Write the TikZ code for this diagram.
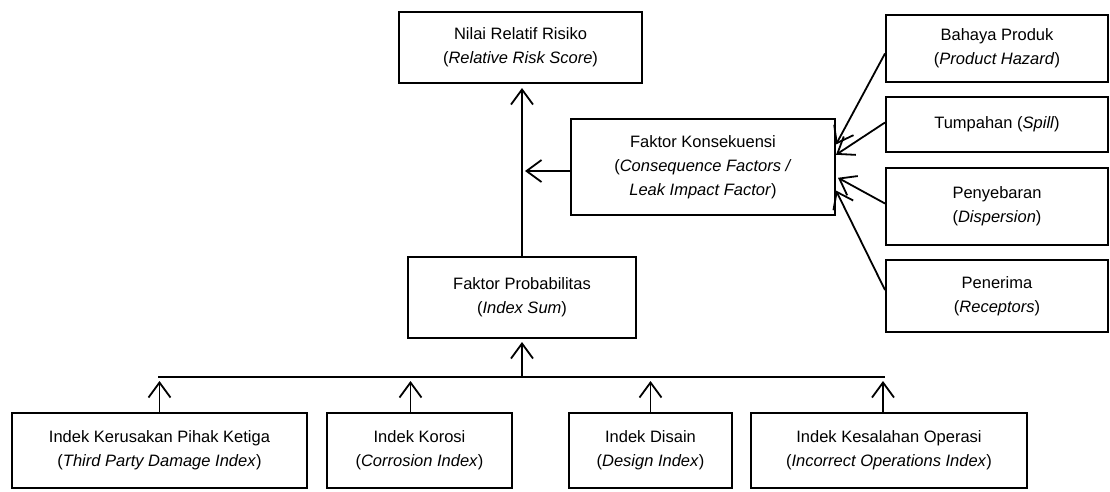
\documentclass[tikz,border=0pt]{standalone}
\usepackage{fontspec}
\setmainfont{Liberation Sans}
\usetikzlibrary{arrows.meta,calc}
\tikzset{
  box/.style={draw=black, line width=2pt, inner sep=0pt, align=center,
    font=\fontsize{16.5}{24}\selectfont},
  conn/.style={line width=1.8pt, -{Straight Barb[length=15pt,width=22pt,line width=1.8pt]}},
  plain/.style={line width=1.8pt}
}
\begin{document}
\begin{tikzpicture}[x=1pt,y=-1pt]
\useasboundingbox[fill=white] (0,0) rectangle (1110,491);
% top
\node[box, minimum width=243pt, minimum height=71pt] (nilai) at (520.5,47.5)
  {Nilai Relatif Risiko\\(\textit{Relative Risk Score})};
\node[box, minimum width=264pt, minimum height=96pt] (kons) at (703,167)
  {Faktor Konsekuensi\\(\textit{Consequence Factors /}\\\textit{Leak Impact Factor})};
\node[box, minimum width=228pt, minimum height=81pt] (prob) at (522,297.5)
  {Faktor Probabilitas\\(\textit{Index Sum})};
% right column
\node[box, minimum width=222pt, minimum height=67pt] (bahaya) at (997,48.5)
  {Bahaya Produk\\(\textit{Product Hazard})};
\node[box, minimum width=222pt, minimum height=55pt] (tump) at (997,124.5)
  {Tumpahan (\textit{Spill})};
\node[box, minimum width=222pt, minimum height=77pt] (peny) at (997,206.5)
  {Penyebaran\\(\textit{Dispersion})};
\node[box, minimum width=222pt, minimum height=72pt] (pener) at (997,296)
  {Penerima\\(\textit{Receptors})};
% bottom row
\node[box, minimum width=295pt, minimum height=75pt] (b1) at (159.5,450.5)
  {Indek Kerusakan Pihak Ketiga\\(\textit{Third Party Damage Index})};
\node[box, minimum width=185pt, minimum height=75pt] (b2) at (419.5,450.5)
  {Indek Korosi\\(\textit{Corrosion Index})};
\node[box, minimum width=163pt, minimum height=75pt] (b3) at (650.5,450.5)
  {Indek Disain\\(\textit{Design Index})};
\node[box, minimum width=276pt, minimum height=75pt] (b4) at (889,450.5)
  {Indek Kesalahan Operasi\\(\textit{Incorrect Operations Index})};
% bus
\coordinate (busL) at (158,377);
\coordinate (busR) at (885,377);
\draw[plain] (busL) -- (busR);
\draw[conn] (b1.north) -- ($(b1.north |- busL)+(0,4)$);
\draw[conn] ($(b2.north)+(-9,0)$) -- ($(b2.north |- busL)+(-9,4)$);
\draw[conn] (b3.north) -- ($(b3.north |- busL)+(0,4)$);
\draw[conn] ($(b4.north)+(-6,0)$) -- ($(b4.north |- busL)+(-6,4)$);
\draw[conn] (prob.south |- busL) -- ($(prob.south)+(0,3)$);
% main vertical
\draw[conn] (prob.north) -- ($(nilai.south -| prob.north)+(0,4)$);
\draw[conn] ($(kons.west)+(0,4)$) -- ($(kons.west -| prob.north)+(3,4)$);
% right connectors
\draw[conn] ($(bahaya.west)+(0,5)$) -- ($(kons.north east)!0.27!(kons.south east)$);
\draw[conn] ($(tump.west)+(0,-2)$) -- ($(kons.north east)!0.375!(kons.south east)$);
\draw[conn] ($(peny.west)+(0,-3)$) -- ($(kons.north east)!0.61!(kons.south east)+(2,0)$);
\draw[conn] ($(pener.west)+(0,-6)$) -- ($(kons.north east)!0.74!(kons.south east)$);
\end{tikzpicture}
\end{document}
